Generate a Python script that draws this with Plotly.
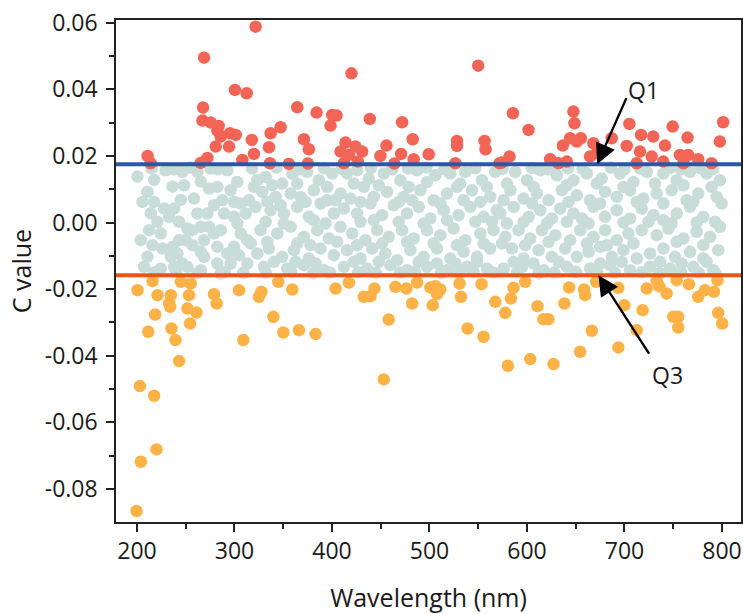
import plotly.graph_objects as go

# ---------------- data ----------------
Q1 = 0.0175
Q3 = -0.0158

red_x = [210.9, 214, 268.8, 267.8, 267.2, 275.7, 283.8, 282.5, 285.9, 280.8,
         295.4, 301.3, 294.4, 300.5, 312.5, 265.4, 272.3, 308.1, 317.8, 320,
         321.7, 335.4, 337.1, 347.3, 364.4, 371.2, 376.3, 336.4, 355.8, 375.3,
         384.2, 398.5, 404.7, 400.3, 420, 408.8, 413.9, 417.3, 424.1, 431,
         412.2, 426.5, 438.8, 455.9, 449.7, 464, 471.9, 470.9, 482.8, 483.8,
         499.2, 526.5, 528.2, 528.2, 550, 556.5, 557.5, 571.9, 585.6, 601.6,
         574.3, 582.1, 623.8, 632.3, 640.9, 636.8, 647.6, 648.7, 644.2, 651.1,
         655.2, 668.1, 664.7, 671.6, 686.9, 705, 702.3, 712.5, 717, 715.9,
         729.5, 727.9, 741.5, 739.8, 749.4, 756.9, 762.1, 760.4, 765.4, 764.7,
         775.6, 789.3, 801.2, 797.8]
red_y = [0.0200, 0.0178, 0.0495, 0.0345, 0.0306, 0.0300, 0.0290, 0.0276, 0.0258, 0.0228,
         0.0268, 0.0263, 0.0228, 0.0398, 0.0388, 0.0179, 0.0194, 0.0188, 0.0248, 0.0206,
         0.0588, 0.0226, 0.0268, 0.0286, 0.0346, 0.0250, 0.0220, 0.0178, 0.0176, 0.0177,
         0.0330, 0.0291, 0.0321, 0.0323, 0.0448, 0.0213, 0.0240, 0.0203, 0.0228, 0.0213,
         0.0178, 0.0183, 0.0311, 0.0231, 0.0200, 0.0177, 0.0301, 0.0206, 0.0250, 0.0190,
         0.0205, 0.0178, 0.0245, 0.0230, 0.0471, 0.0245, 0.0220, 0.0178, 0.0328, 0.0278,
         0.0180, 0.0198, 0.0190, 0.0178, 0.0183, 0.0231, 0.0333, 0.0298, 0.0253, 0.0243,
         0.0253, 0.0238, 0.0198, 0.0208, 0.0253, 0.0296, 0.0230, 0.0178, 0.0263, 0.0213,
         0.0258, 0.0198, 0.0231, 0.0183, 0.0288, 0.0203, 0.0198, 0.0178, 0.0203, 0.0255,
         0.0190, 0.0178, 0.0301, 0.0243]

orange_x = [200.6, 216, 221.1, 234.7, 245, 255.2, 253.4, 279, 304.6,
            233, 234, 251.8, 261, 281.8, 218.6, 254.5, 211.5, 235.4, 239.5,
            243.2, 309.1, 203, 217.6, 220.1, 204, 199.6,
            325.1, 327.6, 345, 359.3, 339.9, 350.1, 366.1, 383.2, 403.7, 417.3,
            432.6, 439.5, 443.6, 458.2, 453.1, 465.1, 476.3, 487.3, 482.2, 500.9,
            506, 511.1, 507.8, 503.3, 530.9, 532.3, 539.1, 553.4, 555.5, 567.5,
            577.7, 583.5, 586.2, 598.2, 580.4, 603.3, 610.8, 616.9, 622, 627.2,
            638.4, 643.2, 654.5, 658.6, 659.6, 666.5, 670.9, 693.7, 693.7, 699.9,
            712.5, 718.6, 722.8, 733, 735.7, 743.2, 750, 755.1, 755.1, 753.5,
            766.1, 775.6, 782.5, 791.7, 795.4, 796.1, 800.2]
orange_y = [-0.0203, -0.0176, -0.0218, -0.0218, -0.0178, -0.0183, -0.0218, -0.0215, -0.0203,
            -0.0243, -0.0253, -0.0258, -0.0270, -0.0243, -0.0276, -0.0303, -0.0328, -0.0318, -0.0353,
            -0.0416, -0.0353, -0.0491, -0.0520, -0.0681, -0.0718, -0.0866,
            -0.0223, -0.0208, -0.0178, -0.0201, -0.0283, -0.0330, -0.0323, -0.0335, -0.0198, -0.0180,
            -0.0223, -0.0221, -0.0198, -0.0291, -0.0471, -0.0193, -0.0198, -0.0180, -0.0243, -0.0195,
            -0.0191, -0.0201, -0.0215, -0.0248, -0.0183, -0.0223, -0.0318, -0.0185, -0.0343, -0.0238,
            -0.0271, -0.0228, -0.0196, -0.0178, -0.0430, -0.0410, -0.0251, -0.0290, -0.0290, -0.0425,
            -0.0243, -0.0195, -0.0388, -0.0201, -0.0218, -0.0325, -0.0178, -0.0375, -0.0196, -0.0248,
            -0.0323, -0.0263, -0.0198, -0.0175, -0.0191, -0.0213, -0.0283, -0.0283, -0.0315, -0.0173,
            -0.0185, -0.0223, -0.0203, -0.0208, -0.0173, -0.0271, -0.0303]

teal_x = [
    # 200-315 nm
    200.5, 210.8, 205.7, 229.5, 246.6, 248.3, 262, 275.6, 292.7, 273.9,
    258.5, 227.8, 238.1, 233, 221, 212.5, 204, 224.4, 226.1, 210.8,
    207.4, 234.7, 241.5, 250, 251.7, 256.8, 262, 272.2, 265.4, 279,
    285.9, 289.3, 287.6, 296.1, 302.9, 306.3, 299.5, 311.5, 314.9, 306.3,
    313.2, 299.5, 292.7, 282.4, 268.8, 265.4, 251.7, 238.1, 224.4, 285.9,
    313.2, 256.8, 246.6, 282.4, 268.8, 296.1,
    217.6, 236.4, 265.4, 299.5, 217.6, 244.9, 279, 214.2, 243.2, 273.9,
    302.9, 215.9, 243.2, 282.4, 304.6, 265.4, 236.4,
    # 315-570 nm
    323.4, 332, 349, 359.3, 374.6, 386.6, 400.2, 415.6, 425.8, 437.8,
    453.1, 470.2, 487.3, 506, 521.4, 536.7, 553.8, 567.4,
    328.5, 342.2, 357.6, 367.8, 381.4, 395.1, 408.7, 419, 432.6, 442.9,
    456.5, 473.6, 490.7, 504.3, 518, 528.2, 543.6, 562.3,
    321.7, 337.1, 350.7, 364.4, 376.3, 388.3, 401.9, 412.2, 425.8, 439.5,
    451.4, 463.4, 477, 489, 500.9, 514.6, 529.9, 541.9, 555.5, 569.2,
    326.8, 343.9, 357.6, 371.2, 384.9, 396.8, 408.7, 420.7, 434.3, 446.3,
    458.2, 471.9, 483.8, 497.5, 511.1, 524.8, 536.7, 552.1, 565.7,
    323.4, 335.4, 349, 361, 376.3, 388.3, 401.9, 415.6, 429.2, 441.2,
    454.8, 466.8, 480.4, 494.1, 507.7, 521.4, 535, 548.7, 562.3,
    330.3, 354.1, 371.2, 391.7, 412.2, 436.1, 459.9, 477, 497.5, 518,
    538.4, 558.9,
    320, 338.8, 364.4, 395.1, 422.4, 448, 478.7, 497.5, 531.6, 558.9,
    333.7, 347.3, 372.9, 403.6, 429.2, 468.5, 482.1, 511.1, 535, 552.1,
    332, 350.7, 381.4, 393.4, 429.2, 442.9, 468.5, 494.1, 518, 547, 564,
    316.6, 333.7, 364.4, 378, 405.3, 425.8, 451.4, 477, 504.3, 528.2, 555.5,
    340.5, 362.7, 383.2, 422.4, 448, 489, 507.7, 526.5, 548.7,
    # 570-800 nm
    588, 600, 613.6, 630.7, 647.7, 661.4, 676.7, 695.5, 709.2, 722.8,
    739.9, 753.5, 767.2, 784.2, 797.9,
    582.9, 596.5, 610.2, 622.1, 635.8, 651.1, 664.8, 680.1, 692.1, 705.7,
    719.4, 733.1, 748.4, 763.8, 775.7, 794.5,
    572.6, 586.3, 601.7, 613.6, 625.5, 634.1, 647.7, 656.3, 668.2, 680.1,
    692.1, 705.7, 717.7, 729.6, 739.9, 753.5, 767.2, 780.8, 792.8,
    577.8, 591.4, 603.4, 615.3, 629, 644.3, 654.6, 668.2, 680.1, 692.1,
    704, 717.7, 733.1, 745, 760.4, 774, 787.7, 797.9,
    584.6, 596.5, 611.9, 625.5, 639.2, 651.1, 663.1, 675, 687, 698.9,
    712.6, 726.2, 739.9, 751.8, 767.2, 780.8, 796.2,
    576.1, 594.8, 617, 640.9, 664.8, 685.3, 705.7, 726.2, 746.7, 770.6,
    791.1,
    579.5, 606.8, 640.9, 671.6, 698.9, 731.3, 760.4, 789.4,
    576.1, 605.1, 642.6, 675, 712.6, 739.9, 770.6, 799.6,
    579.5, 596.5, 620.4, 640.9, 663.1, 698.9, 724.5, 748.4, 774,
    574.3, 598.2, 622.1, 661.4, 681.9, 709.2, 753.5, 780.8,
    586.3, 606.8, 632.4, 675, 697.2, 736.5, 758.6, 784.2,
]
teal_y = [
    # 200-315 nm
    0.0138, 0.0092, 0.0062, 0.0157, 0.0152, 0.0112, 0.0152, 0.0162, 0.0157, 0.0102,
    0.0072, 0.0042, 0.0042, 0.0017, 0.0002, -0.0023, -0.0053, -0.0033, -0.0078, -0.0103,
    -0.0133, -0.0103, -0.0093, -0.0053, -0.0018, -0.0068, 0.0027, 0.0027, -0.0013, -0.0033,
    -0.0023, 0.0027, 0.0067, 0.0097, 0.0122, 0.0057, 0.0017, 0.0027, 0.0067, -0.0033,
    -0.0053, -0.0073, -0.0093, -0.0123, -0.0103, -0.0143, -0.0133, -0.0133, -0.0138, -0.0153,
    -0.0123, -0.0023, -0.0123, 0.0107, -0.0053, -0.0123,
    0.0128, 0.0108, 0.0123, 0.0062, 0.0062, 0.0068, 0.0052, 0.0028, 0.0002, -0.0013,
    -0.0003, -0.0068, -0.0053, -0.0073, -0.0098, -0.0088, -0.0073,
    # 315-570 nm
    0.0127, 0.0137, 0.0117, 0.0147, 0.0152, 0.0127, 0.0147, 0.0147, 0.0157, 0.0132,
    0.0147, 0.0127, 0.0157, 0.0142, 0.0147, 0.0152, 0.0127, 0.0152,
    0.0092, 0.0077, 0.0087, 0.0077, 0.0097, 0.0067, 0.0087, 0.0072, 0.0107, 0.0077,
    0.0092, 0.0077, 0.0097, 0.0067, 0.0087, 0.0107, 0.0097, 0.0077,
    0.0047, 0.0037, 0.0027, 0.0047, 0.0017, 0.0057, 0.0027, 0.0042, 0.0027, 0.0057,
    0.0022, 0.0052, 0.0027, 0.0047, 0.0012, 0.0037, 0.0022, 0.0047, 0.0017, 0.0037,
    -0.0023, -0.0033, -0.0013, -0.0043, -0.0023, -0.0048, -0.0013, -0.0033, -0.0053, -0.0023,
    -0.0043, -0.0023, -0.0048, -0.0023, -0.0038, -0.0018, -0.0053, -0.0033, -0.0023,
    -0.0093, -0.0078, -0.0103, -0.0083, -0.0108, -0.0078, -0.0098, -0.0083, -0.0108, -0.0078,
    -0.0093, -0.0113, -0.0083, -0.0103, -0.0078, -0.0108, -0.0088, -0.0103, -0.0078,
    -0.0133, -0.0138, -0.0128, -0.0143, -0.0133, -0.0138, -0.0128, -0.0143, -0.0133, -0.0143,
    -0.0133, -0.0138,
    0.0107, 0.0112, 0.0117, 0.0107, 0.0117, 0.0112, 0.0107, 0.0122, 0.0117, 0.0107,
    0.0062, 0.0052, 0.0062, 0.0067, 0.0062, 0.0062, 0.0067, 0.0057, 0.0067, 0.0062,
    0.0002, -0.0003, 0.0007, -0.0003, 0.0002, 0.0007, 0.0002, -0.0003, 0.0007, 0.0002, 0.0002,
    -0.0063, -0.0058, -0.0063, -0.0068, -0.0058, -0.0068, -0.0063, -0.0058, -0.0063, -0.0068, -0.0063,
    -0.0118, -0.0118, -0.0123, -0.0118, -0.0118, -0.0118, -0.0123, -0.0123, -0.0118,
    # 570-800 nm
    0.0152, 0.0127, 0.0157, 0.0142, 0.0127, 0.0147, 0.0132, 0.0147, 0.0122, 0.0152,
    0.0147, 0.0127, 0.0152, 0.0147, 0.0127,
    0.0097, 0.0072, 0.0087, 0.0067, 0.0097, 0.0082, 0.0067, 0.0092, 0.0077, 0.0097,
    0.0072, 0.0087, 0.0097, 0.0067, 0.0087, 0.0077,
    0.0027, 0.0047, 0.0017, 0.0037, 0.0012, 0.0042, 0.0027, 0.0012, 0.0047, 0.0017,
    0.0037, 0.0012, 0.0042, 0.0022, 0.0007, 0.0027, 0.0047, 0.0017, 0.0002,
    -0.0043, -0.0023, -0.0048, -0.0023, -0.0038, -0.0053, -0.0023, -0.0043, -0.0023, -0.0053,
    -0.0033, -0.0023, -0.0038, -0.0018, -0.0048, -0.0028, -0.0043, -0.0013,
    -0.0078, -0.0108, -0.0083, -0.0103, -0.0078, -0.0103, -0.0088, -0.0073, -0.0103, -0.0083,
    -0.0108, -0.0093, -0.0078, -0.0103, -0.0088, -0.0108, -0.0083,
    -0.0138, -0.0133, -0.0143, -0.0133, -0.0138, -0.0128, -0.0143, -0.0133, -0.0138, -0.0133,
    -0.0143,
    0.0117, 0.0107, 0.0112, 0.0117, 0.0107, 0.0117, 0.0112, 0.0107,
    0.0067, 0.0057, 0.0062, 0.0057, 0.0062, 0.0057, 0.0062, 0.0057,
    -0.0003, 0.0002, -0.0003, 0.0002, -0.0003, 0.0000, 0.0002, -0.0003, 0.0000,
    -0.0063, -0.0068, -0.0058, -0.0063, -0.0068, -0.0063, -0.0058, -0.0068,
    -0.0118, -0.0123, -0.0118, -0.0123, -0.0118, -0.0118, -0.0123, -0.0118,
]
# teal points that touch the two quartile lines
teal_top_x = [215, 238, 255, 283, 318, 343, 367, 392, 410, 440, 462, 478, 497, 515,
              547, 575, 605, 622, 642, 657, 686, 700, 716, 747, 758, 778, 791]
teal_top_y = [0.0163, 0.0160, 0.0165, 0.0160, 0.0162, 0.0165, 0.0160, 0.0163, 0.0161,
              0.0164, 0.0160, 0.0162, 0.0165, 0.0160, 0.0163, 0.0161, 0.0164, 0.0160,
              0.0163, 0.0161, 0.0165, 0.0160, 0.0162, 0.0164, 0.0160, 0.0163, 0.0161]
teal_bot_x = [218, 240, 262, 290, 309, 332, 358, 381, 398, 427, 445, 470, 485, 512,
              530, 545, 566, 590, 612, 628, 650, 672, 690, 718, 736, 758, 776, 793]
teal_bot_y = [-0.0150, -0.0148, -0.0152, -0.0149, -0.0151, -0.0150, -0.0147, -0.0152,
              -0.0150, -0.0149, -0.0151, -0.0150, -0.0148, -0.0152, -0.0150, -0.0147,
              -0.0151, -0.0149, -0.0152, -0.0150, -0.0148, -0.0151, -0.0150, -0.0149,
              -0.0152, -0.0148, -0.0150, -0.0151]

x_ticks = [200, 300, 400, 500, 600, 700, 800]
y_ticks = [-0.08, -0.06, -0.04, -0.02, 0.00, 0.02, 0.04, 0.06]
y_tick_text = ["-0.08", "-0.06", "-0.04", "-0.02", "0.00", "0.02", "0.04", "0.06"]
x_range = [178.5, 819.5]
y_range = [-0.0899, 0.0608]

# annotation anchors (data units)
q1_head_x, q1_tail = 672.0, (702.6, 0.0378)
q1_label = (720.0, 0.0398)
q3_head_x, q3_tail = 673.3, (726.2, -0.0398)
q3_label = (744.0, -0.0458)

# ---------------- figure ----------------
FONT = "Open Sans"
TXT = "#1a1a1a"
fig = go.Figure()
marker_size = 12.5
fig.add_trace(go.Scatter(x=teal_x + teal_top_x + teal_bot_x,
                         y=teal_y + teal_top_y + teal_bot_y, mode="markers",
                         marker=dict(size=marker_size, color="#C8DDD7", line=dict(width=0))))
fig.add_trace(go.Scatter(x=red_x, y=red_y, mode="markers",
                         marker=dict(size=marker_size, color="#F26455", line=dict(width=0))))
fig.add_trace(go.Scatter(x=orange_x, y=orange_y, mode="markers",
                         marker=dict(size=marker_size, color="#FCB246", line=dict(width=0))))

fig.add_shape(type="line", xref="paper", x0=0, x1=1, yref="y", y0=Q1, y1=Q1,
              line=dict(color="#2B57A6", width=4), layer="above")
fig.add_shape(type="line", xref="paper", x0=0, x1=1, yref="y", y0=Q3, y1=Q3,
              line=dict(color="#E95513", width=4), layer="above")

arrow_style = dict(showarrow=True, arrowhead=2, arrowsize=1.7, arrowwidth=2.4,
                   arrowcolor="black", axref="x", ayref="y", xref="x", yref="y",
                   text="", standoff=0)
fig.add_annotation(x=q1_head_x, y=Q1, ax=q1_tail[0], ay=q1_tail[1], **arrow_style)
fig.add_annotation(x=q3_head_x, y=Q3, ax=q3_tail[0], ay=q3_tail[1], **arrow_style)
fig.add_annotation(x=q1_label[0], y=q1_label[1], text="Q1", showarrow=False,
                   font=dict(family=FONT, size=23, color=TXT))
fig.add_annotation(x=q3_label[0], y=q3_label[1], text="Q3", showarrow=False,
                   font=dict(family=FONT, size=23, color=TXT))

axis_common = dict(showgrid=False, zeroline=False, showline=True, linecolor="#222",
                   linewidth=1.5, mirror=True, ticks="outside", ticklen=8, tickwidth=1.5,
                   tickcolor="#222", automargin=False, ticklabeloverflow="allow",
                   tickfont=dict(family=FONT, size=23, color=TXT))
fig.update_xaxes(range=x_range, tickmode="array", tickvals=x_ticks,
                 ticktext=[str(v) for v in x_ticks],
                 minor=dict(tickmode="linear", tick0=0, dtick=50, ticklen=5,
                            tickwidth=1.5, tickcolor="#222", ticks="outside"),
                 title=dict(text="Wavelength (nm)", font=dict(family=FONT, size=25, color=TXT),
                            standoff=28),
                 **axis_common)
fig.update_yaxes(range=y_range, tickmode="array", tickvals=y_ticks, ticktext=y_tick_text,
                 ticklabelstandoff=4,
                 minor=dict(tickmode="linear", tick0=0, dtick=0.01, ticklen=5,
                            tickwidth=1.5, tickcolor="#222", ticks="outside"),
                 title=dict(text="C value", font=dict(family=FONT, size=25, color=TXT),
                            standoff=6),
                 **axis_common)
fig.update_layout(width=743, height=614, showlegend=False,
                  margin=dict(l=116, r=2, t=20, b=92),
                  plot_bgcolor="white", paper_bgcolor="white")
# remove the page's default body margin so the figure fills the window exactly
fig.write_html("out.html", config={"displayModeBar": False},
               post_script="document.body.style.margin='0';")
